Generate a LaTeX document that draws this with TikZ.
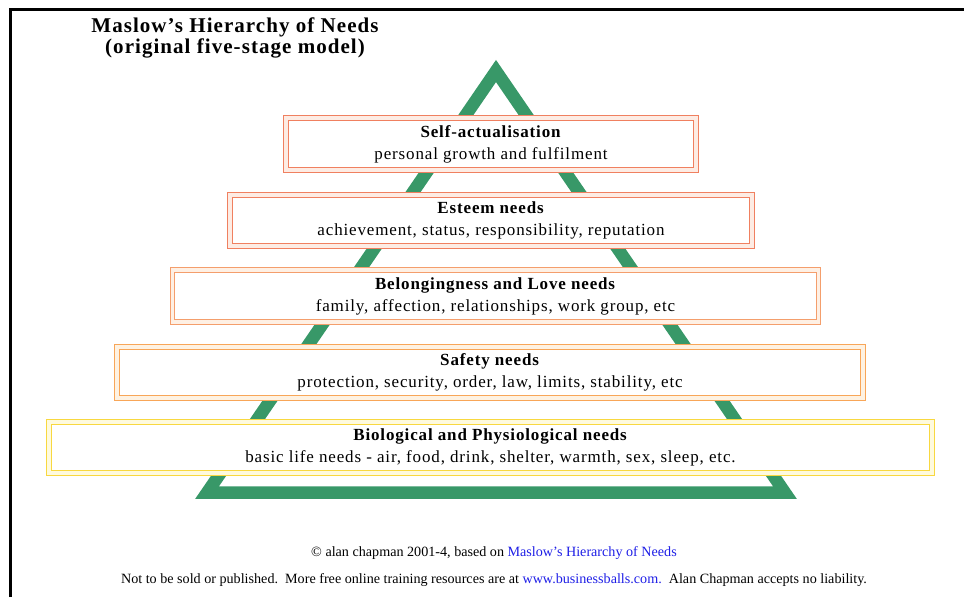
\documentclass[tikz,border=0pt]{standalone}
\usepackage{fontspec}
\setmainfont{Liberation Serif}
\newfontfamily\boxfont[LetterSpace=5]{Liberation Serif}
\newfontfamily\titlefont[LetterSpace=5]{Liberation Serif}
\definecolor{pgreen}{RGB}{56,152,104}
\definecolor{salmon}{RGB}{240,128,96}
\definecolor{salmontint}{RGB}{253,236,228}
\definecolor{peach}{RGB}{244,158,108}
\definecolor{peachtint}{RGB}{254,240,228}
\definecolor{orng}{RGB}{248,166,88}
\definecolor{orngtint}{RGB}{254,242,226}
\definecolor{yllw}{RGB}{248,216,64}
\definecolor{yllwtint}{RGB}{254,250,222}
\definecolor{linkblue}{RGB}{30,30,230}
\tikzset{
  needbox/.style={rectangle, fill=white, line width=0.9pt, double distance=2.6pt, align=center,
    inner sep=0pt, font=\boxfont\fontsize{12.75}{16.5}\selectfont},
  lvlA/.style={needbox, draw=salmon, double=salmontint},
  lvlB/.style={needbox, draw=peach, double=peachtint},
  lvlC/.style={needbox, draw=orng, double=orngtint},
  lvlD/.style={needbox, draw=yllw, double=yllwtint},
  foot/.style={font=\fontsize{10.6}{12}\selectfont, inner sep=0pt}
}
\begin{document}
\begin{tikzpicture}[x=0.75pt, y=-0.75pt]
\useasboundingbox (0,0) rectangle (964,597);
% frame
\draw[line width=2.25pt] (10,597) -- (10,9.5) -- (964,9.5);
% title
\node[align=center, font=\titlefont\bfseries\fontsize{15.75}{15.75}\selectfont, inner sep=0pt] (title) at (235,38)
  {Maslow’s Hierarchy of Needs\\(original five-stage model)};
% triangle
\coordinate (tl) at (207,492.7);
\coordinate (tr) at (785,492.7);
\coordinate (ta) at (496,71);
\draw[pgreen, line width=9.4pt, line join=miter] (tl) -- (ta) -- (tr) -- cycle;
% boxes
\node[lvlA, minimum width=307.5pt, minimum height=39pt] (b1) at (491,144)
  {\textbf{Self-actualisation}\\personal growth and fulfilment};
\node[lvlA, minimum width=391.5pt, minimum height=38.25pt] (b2) at (491,220.5)
  {\textbf{Esteem needs}\\achievement, status, responsibility, reputation};
\node[lvlB, minimum width=484.5pt, minimum height=39pt] (b3) at (495.5,296)
  {\textbf{Belongingness and Love needs}\\family, affection, relationships, work group, etc};
\node[lvlC, minimum width=559.5pt, minimum height=38.25pt] (b4) at (490,372.5)
  {\textbf{Safety needs}\\protection, security, order, law, limits, stability, etc};
\node[lvlD, minimum width=662.25pt, minimum height=38.25pt] (b5) at (490.5,447.5)
  {\textbf{Biological and Physiological needs}\\basic life needs - air, food, drink, shelter, warmth, sex, sleep, etc.};
% footer
\node[foot] (f1) at (494,553) {© alan chapman 2001-4, based on \textcolor{linkblue}{Maslow’s Hierarchy of Needs}};
\node[foot] (f2) at (494,580) {Not to be sold or published.\ \ More free online training resources are at \textcolor{linkblue}{www.businessballs.com.}\ \ Alan Chapman accepts no liability.};
\end{tikzpicture}
\end{document}
